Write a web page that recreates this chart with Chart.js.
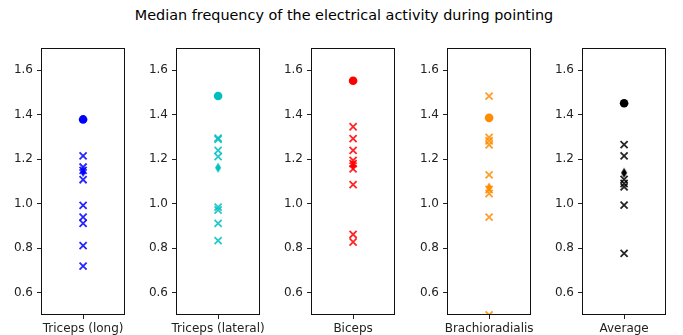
<!DOCTYPE html>
<html><head><meta charset="utf-8">
<script src="https://cdn.jsdelivr.net/npm/chart.js@4.4.0/dist/chart.umd.min.js"></script>
<style>
html,body{margin:0;padding:0;background:#fff;width:683px;height:335px;overflow:hidden;position:relative;font-family:"DejaVu Sans",sans-serif;}
#title{position:absolute;left:0;top:7px;width:688px;text-align:center;font-size:14.4px;color:#000;white-space:nowrap;}
canvas{position:absolute;top:40px;}
</style></head><body>
<div id="title">Median frequency of the electrical activity during pointing</div>
<script>
// ---- data ----
const categories = ['Triceps (long)', 'Triceps (lateral)', 'Biceps', 'Brachioradialis', 'Average'];
const yTicks = [0.6, 0.8, 1.0, 1.2, 1.4, 1.6];
const circleValues  = [1.379, 1.484, 1.553, 1.386, 1.452];
const diamondValues = [1.143, 1.162, 1.172, 1.073, 1.139];
const tricepsLongSubjects    = [1.215, 1.165, 1.15, 1.108, 0.993, 0.94, 0.912, 0.812, 0.72];
const tricepsLateralSubjects = [1.295, 1.29, 1.24, 1.212, 0.985, 0.972, 0.912, 0.834];
const bicepsSubjects         = [1.346, 1.293, 1.24, 1.195, 1.18, 1.157, 1.086, 0.862, 0.828];
const brachioSubjects        = [1.484, 1.298, 1.283, 1.265, 1.13, 1.064, 1.046, 0.94, 0.50];
const averageSubjects        = [1.266, 1.215, 1.109, 1.091, 1.076, 0.994, 0.777];
const subjectValues = [tricepsLongSubjects, tricepsLateralSubjects, bicepsSubjects, brachioSubjects, averageSubjects];

// ---- styles / layout ----
const colors = ['#0000ff', '#00bfbf', '#ff0000', '#ff8c00', '#000000'];
const crossColors = ['rgba(0,0,255,0.85)', 'rgba(0,191,191,0.85)', 'rgba(255,0,0,0.85)', 'rgba(255,140,0,0.85)', 'rgba(0,0,0,0.85)'];
const plotLefts = [41, 176, 311, 447, 582];
const YAXIS_W = 41, PLOT_W = 85, RIGHT_PAD = 6, CANVAS_H = 295, TOP_PAD = 8, XAXIS_H = 20;

function diamondImage(color) {
  const c = document.createElement('canvas');
  c.width = 8; c.height = 11;
  const g = c.getContext('2d');
  g.fillStyle = color;
  g.beginPath();
  g.moveTo(4, 0.5); g.lineTo(7, 5.5); g.lineTo(4, 10.5); g.lineTo(1, 5.5);
  g.closePath(); g.fill();
  return c;
}

const framePlugin = {
  id: 'frame',
  afterDraw(chart) {
    const a = chart.chartArea, ctx = chart.ctx;
    ctx.save();
    ctx.strokeStyle = '#111';
    ctx.lineWidth = 1;
    ctx.strokeRect(Math.round(a.left) + 0.5, Math.round(a.top) + 0.5,
                   Math.round(a.right - a.left) - 1, Math.round(a.bottom - a.top) - 1);
    ctx.restore();
  }
};

const font = {family: 'DejaVu Sans', size: 12};

categories.forEach((cat, i) => {
  const cv = document.createElement('canvas');
  cv.width = YAXIS_W + PLOT_W + RIGHT_PAD;
  cv.height = CANVAS_H;
  cv.style.left = (plotLefts[i] - YAXIS_W) + 'px';
  document.body.appendChild(cv);
  new Chart(cv, {
    type: 'scatter',
    data: {
      labels: [cat],
      datasets: [
        {
          data: subjectValues[i].map(v => ({x: cat, y: v})),
          pointStyle: 'crossRot', pointRadius: 5, borderWidth: 1.8,
          borderColor: crossColors[i], backgroundColor: crossColors[i]
        },
        {
          data: [{x: cat, y: diamondValues[i]}],
          pointStyle: diamondImage(colors[i]), pointRadius: 4
        },
        {
          data: [{x: cat, y: circleValues[i]}],
          pointStyle: 'circle', pointRadius: 4.3, borderWidth: 0,
          backgroundColor: colors[i], borderColor: colors[i]
        }
      ]
    },
    options: {
      responsive: false, animation: false, events: [],
      plugins: {legend: {display: false}, tooltip: {enabled: false}},
      layout: {padding: {top: TOP_PAD, right: RIGHT_PAD, left: 0, bottom: 0}},
      scales: {
        x: {
          type: 'category', labels: [cat], offset: true,
          grid: {display: true, drawOnChartArea: false, drawTicks: true, tickLength: 4, color: '#222', offset: false},
          border: {display: false},
          ticks: {maxRotation: 0, minRotation: 0, autoSkip: false, padding: 3, color: '#222', font: font},
          afterFit(s) { s.height = XAXIS_H; s.paddingLeft = 0; s.paddingRight = 0; }
        },
        y: {
          type: 'linear', min: 0.5, max: 1.7,
          afterBuildTicks(s) { s.ticks = yTicks.map(v => ({value: v})); },
          grid: {display: true, drawOnChartArea: false, drawTicks: true, tickLength: 4, color: '#222'},
          border: {display: false},
          ticks: {padding: 4, color: '#222', font: font, callback: v => Number(v).toFixed(1)},
          afterFit(s) { s.width = YAXIS_W; s.paddingTop = 0; s.paddingBottom = 0; }
        }
      }
    },
    plugins: [framePlugin]
  });
});
</script>
</body></html>
